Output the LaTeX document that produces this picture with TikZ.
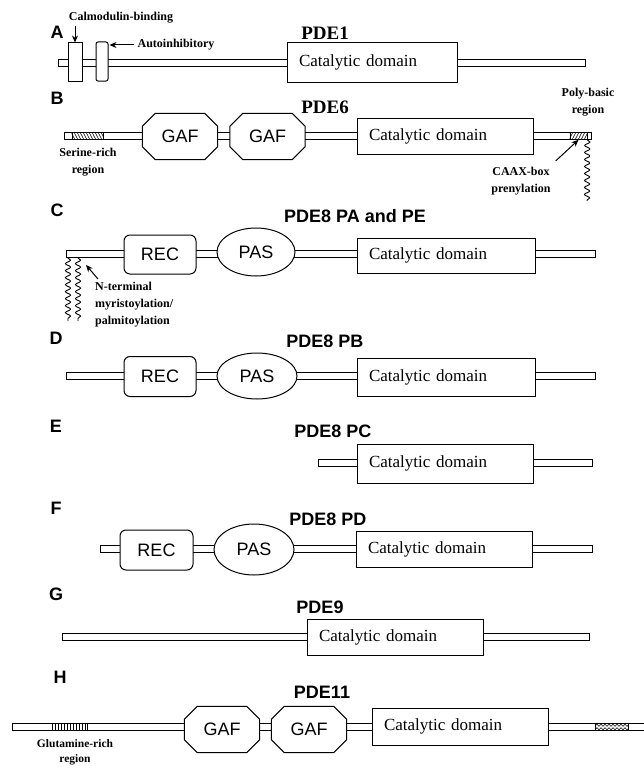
\documentclass[tikz,border=0pt]{standalone}
\usepackage{fontspec}
\setmainfont{Liberation Serif}
\setsansfont{Liberation Sans}
\usetikzlibrary{shapes.geometric,arrows.meta,decorations.pathmorphing}
\tikzset{
  bb/.style={draw, fill=white, line width=0.9pt, minimum height=7pt, inner sep=0pt, anchor=west},
  dom/.style={draw, fill=white, line width=1pt, inner sep=0pt},
  cat/.style={dom, inner xsep=12pt, align=left, font=\fontsize{17}{17}\selectfont},
  recbox/.style={dom, rounded corners=6pt, font=\sffamily\fontsize{18}{18}\selectfont},
  pasbox/.style={dom, ellipse, font=\sffamily\fontsize{18}{18}\selectfont},
  gafbox/.style={inner sep=0pt, minimum width=75pt, minimum height=46pt},
  gaftxt/.style={inner sep=0pt, font=\sffamily\fontsize{18}{18}\selectfont},
  hatchbox/.style={draw, fill=white, line width=0.6pt, inner sep=0pt, minimum height=7pt},
  letter/.style={inner sep=0pt, font=\sffamily\bfseries\fontsize{18}{18}\selectfont},
  ttlsans/.style={inner sep=0pt, font=\sffamily\bfseries\fontsize{18}{18}\selectfont},
  ttlserif/.style={inner sep=0pt, font=\bfseries\fontsize{19}{19}\selectfont},
  note/.style={inner sep=0pt, align=center, font=\bfseries\fontsize{12}{17}\selectfont},
  arr/.style={-{Stealth[length=7pt,width=6pt]}, line width=1pt},
  squig/.style={line width=0.9pt, decorate, decoration={snake, amplitude=2.6pt, segment length=7pt}}
}
\newcommand\octa[1]{\filldraw[fill=white, line width=1pt]
  ([xshift=13pt]#1.north west) -- ([xshift=-13pt]#1.north east) --
  ([yshift=-13pt]#1.north east) -- ([yshift=13pt]#1.south east) --
  ([xshift=-13pt]#1.south east) -- ([xshift=13pt]#1.south west) --
  ([yshift=13pt]#1.south west) -- ([yshift=-13pt]#1.north west) -- cycle;}
\begin{document}
\begin{tikzpicture}[x=1pt,y=-1pt]
\useasboundingbox (0,0) rectangle (644,768);

% ---------------- A : PDE1
\node[bb, minimum width=527pt] (bbA) at (58,63) {};
\node[dom, minimum width=14pt, minimum height=38pt] (calB) at (75,62) {};
\node[dom, rounded corners=2pt, minimum width=12pt, minimum height=39pt] (autB) at (102,61.5) {};
\node[cat, minimum height=39pt, text width=146pt] (catA) at (372,62.5) {Catalytic domain};
\node[ttlserif] (tA) at (325,33) {PDE1};
\node[letter] (lA) at (57,32) {A};
\node[note] (calT) at (121,18) {Calmodulin-binding};
\node[note] (autT) at (176,45) {Autoinhibitory};
\draw[arr] ([yshift=-2pt]calT.south -| calB.north) -- (calB.north);
\draw[arr] ([xshift=-3pt]autT.west) -- ([xshift=1pt]autT.west -| autB.east);

% ---------------- B : PDE6
\node[bb, minimum width=527pt] (bbB) at (64,136) {};
\node[hatchbox, minimum width=31pt] (serB) at (87.5,136) {};
\begin{scope}
  \clip (serB.south west) rectangle (serB.north east);
  \foreach \i in {0,...,12} \draw[line width=0.5pt] (68+\i*3,132) -- (72+\i*3,140);
\end{scope}
\node[hatchbox, minimum width=17pt] (pbB) at (578.5,136) {};
\begin{scope}
  \clip (pbB.south west) rectangle (pbB.north east);
  \foreach \i in {0,...,8} \draw[line width=0.5pt] (566+\i*3,140) -- (570+\i*3,132);
\end{scope}
\node[gafbox] (gB1) at (180,136.5) {};
\octa{gB1}
\node[gaftxt] (gB1t) at (gB1) {GAF};
\node[gafbox] (gB2) at (267.5,136.5) {};
\octa{gB2}
\node[gaftxt] (gB2t) at (gB2) {GAF};
\node[cat, minimum height=36pt, text width=152pt] (catB) at (445,136) {Catalytic domain};
\node[ttlserif] (tB) at (325,107) {PDE6};
\node[letter] (lB) at (57,98) {B};
\node[note] (serT) at (88,162) {Serine-rich\\region};
\node[note] (pbT) at (588,102) {Poly-basic\\region};
\node[note] (caaxT) at (521,181) {CAAX-box\\prenylation};
\coordinate (sqBe) at (587,201);
\draw[squig] (pbB.south east) -- (sqBe);
\draw[arr] ([xshift=5pt,yshift=6pt]caaxT.north east) -- (pbB.south);

% ---------------- C : PDE8 PA and PE
\node[bb, minimum width=529pt] (bbC) at (66,254) {};
\node[recbox, minimum width=72pt, minimum height=39pt] (recC) at (160,254.5) {REC};
\node[pasbox, minimum width=78pt, minimum height=48pt] (pasC) at (256,252) {PAS};
\node[cat, minimum height=35pt, text width=154pt] (catC) at (446,255.5) {Catalytic domain};
\node[ttlsans] (tC) at (355,216) {PDE8 PA and PE};
\node[letter] (lC) at (57,210) {C};
\coordinate (sqC1) at (68,321);
\coordinate (sqC2) at (78,321);
\draw[squig] ([xshift=2pt]bbC.south west) -- (sqC1);
\draw[squig] ([xshift=12pt]bbC.south west) -- (sqC2);
\node[note, align=left, anchor=north west] (ntT) at (95,282) {N-terminal\\myristoylation/\\palmitoylation};
\draw[arr] ([xshift=3pt,yshift=3pt]ntT.north west) -- ([xshift=20pt,yshift=-7pt]bbC.south west);

% ---------------- D : PDE8 PB
\node[bb, minimum width=529pt] (bbD) at (66,376) {};
\node[recbox, minimum width=72pt, minimum height=40pt] (recD) at (160,376.5) {REC};
\node[pasbox, minimum width=80pt, minimum height=46pt] (pasD) at (257,376) {PAS};
\node[cat, minimum height=38pt, text width=154pt] (catD) at (446,377) {Catalytic domain};
\node[ttlsans] (tD) at (325,341) {PDE8 PB};
\node[letter] (lD) at (56,338) {D};

% ---------------- E : PDE8 PC
\node[bb, minimum width=274pt] (bbE) at (318,463) {};
\node[cat, minimum height=39pt, text width=152pt] (catE) at (445,463.5) {Catalytic domain};
\node[ttlsans] (tE) at (333,431) {PDE8 PC};
\node[letter] (lE) at (56,426) {E};

% ---------------- F : PDE8 PD
\node[bb, minimum width=492pt] (bbF) at (100,549) {};
\node[recbox, minimum width=73pt, minimum height=40pt] (recF) at (156.5,550) {REC};
\node[pasbox, minimum width=80pt, minimum height=51pt] (pasF) at (254,549.5) {PAS};
\node[cat, minimum height=36pt, text width=152pt] (catF) at (444,549) {Catalytic domain};
\node[ttlsans] (tF) at (328,519) {PDE8 PD};
\node[letter] (lF) at (56,508) {F};

% ---------------- G : PDE9
\node[bb, minimum width=527pt] (bbG) at (62,637) {};
\node[cat, minimum height=36pt, text width=152pt] (catG) at (395,637) {Catalytic domain};
\node[ttlsans] (tG) at (320,607) {PDE9};
\node[letter] (lG) at (56,594) {G};

% ---------------- H : PDE11
\node[bb, minimum width=645pt] (bbH) at (12,727) {};
\node[hatchbox, minimum width=35pt] (gluH) at (69.5,727) {};
\foreach \i in {0,...,11} \draw[line width=0.6pt] (52+\i*3,723.5) -- (52+\i*3,730.5);
\node[hatchbox, minimum width=33pt] (wvH) at (611.5,727) {};
\begin{scope}
  \clip (wvH.south west) rectangle (wvH.north east);
  \draw[line width=0.5pt, decorate, decoration={zigzag, amplitude=1.1pt, segment length=4pt}] (596,725.3) -- (628,725.3);
  \draw[line width=0.5pt, decorate, decoration={zigzag, amplitude=1.1pt, segment length=4pt}] (596,728.7) -- (628,728.7);
\end{scope}
\node[gafbox] (gH1) at (222,729.5) {};
\octa{gH1}
\node[gaftxt] (gH1t) at (gH1) {GAF};
\node[gafbox] (gH2) at (309,729.5) {};
\octa{gH2}
\node[gaftxt] (gH2t) at (gH2) {GAF};
\node[cat, minimum height=37pt, text width=152pt] (catH) at (460,726.5) {Catalytic domain};
\node[ttlsans] (tH) at (322,692) {PDE11};
\node[letter] (lH) at (60,677) {H};
\node[note, font=\bfseries\fontsize{11.5}{15}\selectfont] (gluT) at (75,752) {Glutamine-rich\\region};
\end{tikzpicture}
\end{document}
